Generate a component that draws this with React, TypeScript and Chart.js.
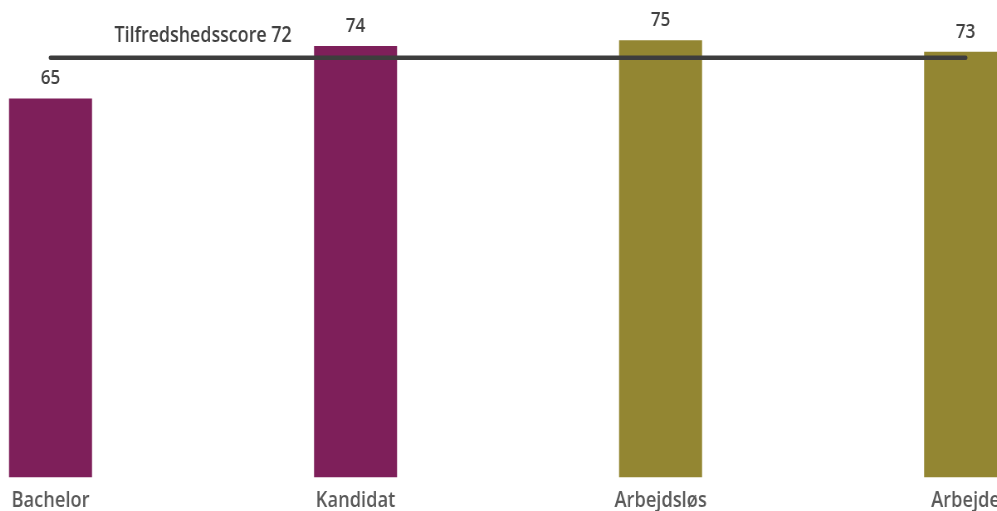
import React, { useEffect, useRef } from "react";
import { Chart, registerables } from "chart.js";

Chart.register(...registerables);

const categories = ["Bachelor", "Kandidat", "Arbejdsløs", "Arbejde"];
const scores = [65, 74, 75, 73];
const barColors = ["#7E1F5A", "#7E1F5A", "#938632", "#938632"];
const averageScore = 72;
const averageLabel = "Tilfredshedsscore 72";

const SQUASH = 0.83; // horizontal compression of the reference
const CAT_W = 305 / SQUASH;
const CANVAS_W = Math.round(CAT_W * categories.length);
const CANVAS_H = 524;
const FONT = "'Open Sans', sans-serif";

const labelPlugin = {
  id: "labels",
  afterDatasetsDraw(chart: any) {
    const ctx = chart.ctx;
    ctx.save();
    ctx.font = `600 20.5px ${FONT}`;
    ctx.fillStyle = "#404040";
    ctx.textAlign = "center";
    ctx.textBaseline = "alphabetic";
    const barMeta = chart.getDatasetMeta(0);
    barMeta.data.forEach((el: any, i: number) => {
      ctx.fillText(String(scores[i]), el.x, el.y - 14);
    });
    const lineMeta = chart.getDatasetMeta(1);
    const p0 = lineMeta.data[0];
    const p1 = lineMeta.data[1];
    ctx.font = `600 21.5px ${FONT}`;
    ctx.fillText(averageLabel, (p0.x + p1.x) / 2, p0.y - 16);
    ctx.restore();
  },
};

export default function App() {
  const ref = useRef<HTMLCanvasElement | null>(null);
  useEffect(() => {
    if (!ref.current) return;
    const chart = new Chart(ref.current, {
      type: "bar",
      data: {
        labels: categories,
        datasets: [
          {
            type: "bar",
            data: scores,
            backgroundColor: barColors,
            barPercentage: 83 / 305,
            categoryPercentage: 1,
            order: 1,
          },
          {
            type: "line",
            data: categories.map(() => averageScore),
            borderColor: "#3D3D3D",
            borderWidth: 4.5,
            borderCapStyle: "round",
            pointRadius: 0,
            fill: false,
            order: 0,
          } as any,
        ],
      },
      options: {
        responsive: false,
        animation: false,
        devicePixelRatio: 1,
        layout: { padding: { top: 11, left: 0, right: 0, bottom: 0 } },
        plugins: { legend: { display: false }, tooltip: { enabled: false } },
        scales: {
          x: {
            offset: true,
            grid: { display: false, drawTicks: false },
            border: { display: false },
            ticks: {
              color: "#595959",
              font: { family: FONT, size: 22, weight: "600" },
              padding: 10,
              autoSkip: false,
              maxRotation: 0,
            },
          },
          y: {
            display: false,
            min: 0,
            max: 80,
          },
        },
      },
      plugins: [labelPlugin],
    });
    return () => chart.destroy();
  }, []);

  return (
    <div
      style={{
        position: "fixed",
        left: 0,
        top: 0,
        width: 997,
        height: 511,
        overflow: "hidden",
        background: "#ffffff",
      }}
    >
      <canvas
        ref={ref}
        width={CANVAS_W}
        height={CANVAS_H}
        style={{
          position: "absolute",
          left: -102,
          top: 0,
          width: CANVAS_W,
          height: CANVAS_H,
          transform: `scaleX(${SQUASH})`,
          transformOrigin: "0 0",
        }}
      />
    </div>
  );
}
